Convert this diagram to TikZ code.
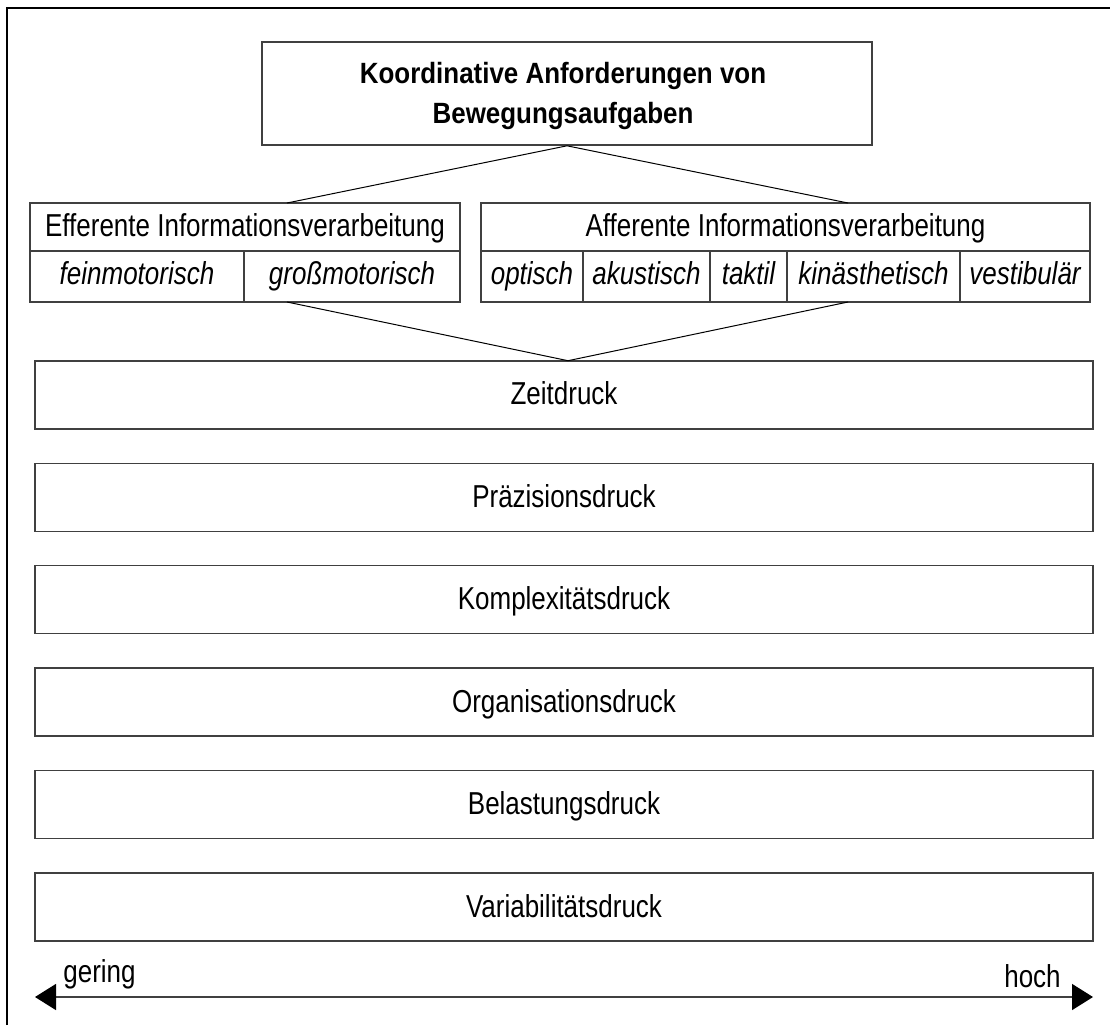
\documentclass[tikz,border=0pt]{standalone}
\usepackage{fontspec}
\setmainfont[FakeStretch=0.82]{Liberation Sans}
\newfontfamily\titlefont[FakeStretch=0.885]{Liberation Sans}
\usetikzlibrary{arrows.meta}
\begin{document}
\begin{tikzpicture}[x=1pt,y=-1pt,
  txt/.style={font=\fontsize{31.7}{38}\selectfont},
  box/.style={draw=black!75,line width=1.4pt,inner sep=0pt,txt,text height=23pt,text depth=3pt},
  cell/.style={box,font=\fontsize{31.7}{38}\selectfont\itshape,text height=22pt,text depth=7pt},
  bar/.style={box,minimum width=1058pt,minimum height=68pt},
  ttl/.style={inner sep=0pt,anchor=base,font=\titlefont\bfseries\fontsize{29.3}{40}\selectfont},
  conn/.style={draw=black,line width=1pt},
  frameline/.style={draw=black,line width=2pt},
  scalearrow/.style={line width=1.4pt,draw=black!75,
    arrows={Triangle[length=21pt,width=26pt,color=black]-Triangle[length=21pt,width=26pt,color=black]}}]
\useasboundingbox (0,0) rectangle (1110,1025);
% frame
\coordinate (fa) at (7,1025);
\coordinate (fb) at (7,8);
\coordinate (fc) at (1110,8);
\draw[frameline] (fa) -- (fb) -- (fc);
% title
\node[box,minimum width=610pt,minimum height=103pt,text height=,text depth=] (top) at (567,93.6) {};
\node[ttl] (top1) at (563,83.3) {Koordinative Anforderungen von};
\node[ttl] (top2) at (563,123.3) {Bewegungsaufgaben};
% efferent
\node[box,minimum width=430pt,minimum height=48pt,text depth=3.8pt] (effh) at (245,227) {Efferente Informationsverarbeitung};
\node[cell,minimum width=214pt,minimum height=51pt] (fein) at (137,276.5) {feinmotorisch};
\node[cell,minimum width=216pt,minimum height=51pt] (gross) at (352,276.5) {großmotorisch};
% afferent
\node[box,minimum width=609pt,minimum height=48pt,text depth=3.8pt] (affh) at (785.5,227) {Afferente Informationsverarbeitung};
\node[cell,minimum width=102pt,minimum height=51pt] (opt) at (532,276.5) {optisch};
\node[cell,minimum width=127pt,minimum height=51pt] (aku) at (646.5,276.5) {akustisch};
\node[cell,minimum width=77pt,minimum height=51pt] (tak) at (748.5,276.5) {taktil};
\node[cell,minimum width=173pt,minimum height=51pt] (kin) at (873.5,276.5) {kinästhetisch};
\node[cell,minimum width=130pt,minimum height=51pt] (ves) at (1025,276.5) {vestibulär};
% bars
\node[bar] (zeit) at (564,394.8) {Zeitdruck};
\node[bar] (praez) at (564,497.2) {Präzisionsdruck};
\node[bar] (komp) at (564,599.7) {Komplexitätsdruck};
\node[bar] (org) at (564,702.1) {Organisationsdruck};
\node[bar] (bel) at (564,804.6) {Belastungsdruck};
\node[bar] (var) at (564,907) {Variabilitätsdruck};
% connectors
\coordinate (e1) at (287,203);
\coordinate (a1) at (848,203);
\coordinate (e2) at (287,302);
\coordinate (a2) at (848,302);
\coordinate (apex) at (568,360.7);
\draw[conn] (e1) -- (top.south) -- (a1);
\draw[conn] (e2) -- (apex) -- (a2);
% scale arrow
\coordinate (la) at (35,997);
\coordinate (ra) at (1093,997);
\draw[scalearrow] (la) -- (ra);
\node[txt,inner sep=0pt,anchor=base] (ger) at (99.5,982) {gering};
\node[txt,inner sep=0pt,anchor=base] (hoch) at (1032.5,987) {hoch};
\end{tikzpicture}
\end{document}
